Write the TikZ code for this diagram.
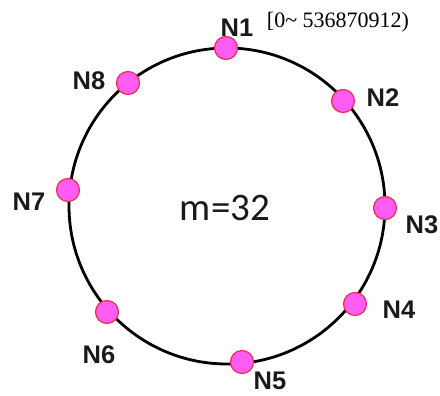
\documentclass[tikz,border=0pt]{standalone}
\usepackage{fontspec}
\setmainfont{Liberation Serif}
\newfontfamily\peerfont{Liberation Sans}
\newfontfamily\bodyfont{Carlito}
\definecolor{dotfill}{HTML}{FF5CF4}
\definecolor{dotedge}{HTML}{EE2F4C}
\definecolor{txtgray}{HTML}{1A1A1A}

\begin{document}
\begin{tikzpicture}[x=1pt,y=-1pt,
    peer/.style={circle,draw=dotedge,fill=dotfill,line width=1.2pt,inner sep=0pt,minimum size=23pt},
    peername/.style={font=\peerfont\bfseries\fontsize{25.5}{25.5}\selectfont,text=txtgray,inner sep=0pt}]
            \useasboundingbox (0,0) rectangle (440,396);
            \coordinate (c) at (227,206);
            \draw [line width=2.8pt] (c) circle (158pt);
            % peers on the ring
            \node [peer] (n1) at (226,48) {};
            \node [peer] (n2) at (343,101) {};
            \node [peer] (n3) at (385,208) {};
            \node [peer] (n4) at (355,304) {};
            \node [peer] (n5) at (242,362) {};
            \node [peer] (n6) at (107,312) {};
            \node [peer] (n7) at (68,190) {};
            \node [peer] (n8) at (128,83) {};
            % names
            \node [peername] (l1) at (237,28) {N1};
            \node [peername] (l2) at (383,98) {N2};
            \node [peername] (l3) at (422,225) {N3};
            \node [peername] (l4) at (399,310) {N4};
            \node [peername] (l5) at (270,381) {N5};
            \node [peername] (l6) at (99,355) {N6};
            \node [peername] (l7) at (29,202) {N7};
            \node [peername] (l8) at (89,81) {N8};
            \node [font=\fontsize{22}{22}\selectfont,inner sep=0pt] (range) at (338,22) {[0\char`~\ 536870912)};
            \node [font=\bodyfont\fontsize{39}{39}\selectfont,text=txtgray,inner sep=0pt] (m) at (225,208) {m=32};
        \end{tikzpicture}
\end{document}
